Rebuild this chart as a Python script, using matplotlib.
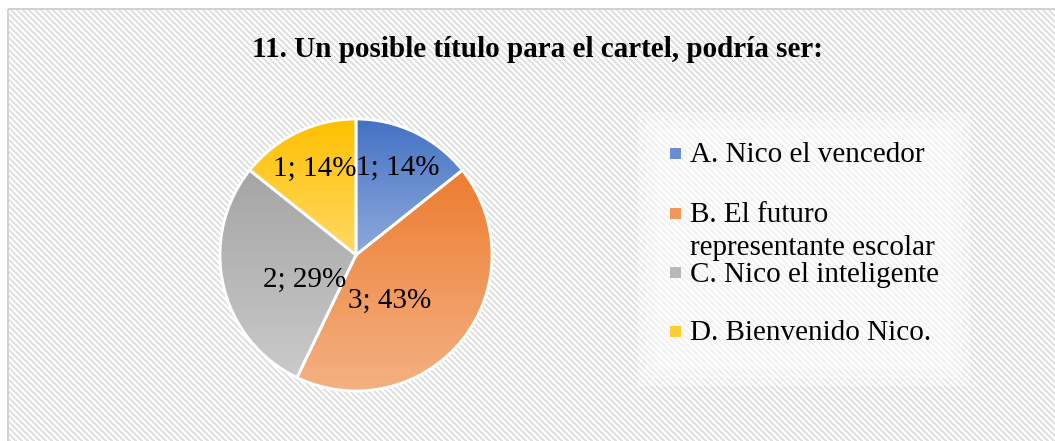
import numpy as np
import matplotlib
matplotlib.use("Agg")
import matplotlib.pyplot as plt
from matplotlib.colors import LinearSegmentedColormap, to_rgb
from matplotlib.patches import Rectangle

plt.rcParams['font.family'] = ['Liberation Serif', 'DejaVu Serif']

# data
title = "11. Un posible título para el cartel, podría ser:"
categories = ["A. Nico el vencedor",
              "B. El futuro\nrepresentante escolar",
              "C. Nico el inteligente",
              "D. Bienvenido Nico."]
counts = [1, 3, 2, 1]

# gradient colours (top -> bottom) for each slice
top_colors = ["#4472C4", "#ED7D31", "#A5A5A5", "#FFC000"]
bottom_colors = ["#8FAADC", "#F4B183", "#CACACA", "#FFD966"]

W, H = 1055, 441
fig = plt.figure(figsize=(W / 100, H / 100), dpi=100)

# striped background with a thin border
bg = fig.add_axes([0, 0, 1, 1], zorder=-10)
yy, xx = np.mgrid[0:H, 0:W]
stripes = ((xx - yy) % 6) < 3
img = np.ones((H, W, 3))
img[stripes] = np.array([226, 226, 226]) / 255
img[:, :8] = 1
img[:9, :] = 1
img[9:, 7:9] = np.array([210, 210, 210]) / 255
img[8:10, 8:] = np.array([210, 210, 210]) / 255
bg.imshow(img, extent=[0, W, H, 0], aspect='auto', interpolation='nearest')
bg.set_xlim(0, W)
bg.set_ylim(H, 0)
bg.axis('off')

# soft white panel behind the legend (a few stacked layers to fake a glow)
for pad, a in [(0, 0.25), (8, 0.25), (16, 0.25)]:
    bg.add_patch(Rectangle((638 + pad, 112 + pad), 332 - 2 * pad, 274 - 2 * pad,
                           facecolor='white', alpha=a, edgecolor='none'))

fig.text(538 / W, 1 - 57 / H, title, ha='center', va='baseline',
         fontsize=21, fontweight='bold')

# pie
cx, cy, r = 356, 255, 136
ax = fig.add_axes([(cx - r) / W, (H - cy - r) / H, 2 * r / W, 2 * r / H])
wedges, _ = ax.pie(counts, startangle=90, counterclock=False, radius=1,
                   wedgeprops=dict(edgecolor='white', linewidth=2))

grad = np.linspace(0, 1, 256).reshape(-1, 1)
for w, c0, c1 in zip(wedges, top_colors, bottom_colors):
    ext = w.get_path().get_extents()
    cmap = LinearSegmentedColormap.from_list('g', [c0, c1])
    im = ax.imshow(grad, cmap=cmap, extent=[ext.x0, ext.x1, ext.y0, ext.y1],
                   origin='upper', aspect='auto', zorder=0.5)
    im.set_clip_path(w)
    w.set_facecolor('none')
    w.set_zorder(1)

total = sum(counts)
label_r = [0.71, 0.42, 0.42, 0.70]
label_shift = [0, -15, 13, 0]
for w, n, lr, sh in zip(wedges, counts, label_r, label_shift):
    mid = np.deg2rad((w.theta1 + w.theta2) / 2 + sh)
    ax.text(lr * np.cos(mid), lr * np.sin(mid), f"{n}; {round(100 * n / total)}%",
            ha='center', va='center', fontsize=21, zorder=3)

ax.set_xlim(-1, 1)
ax.set_ylim(-1, 1)
ax.set_aspect('equal')
ax.axis('off')

# legend drawn by hand to match the original spacing
row_y = [153.5, 213, 272.5, 331.5]
line_h = 33
for lab, yc, c0, c1 in zip(categories, row_y, top_colors, bottom_colors):
    sq = 11
    mid_col = (np.array(to_rgb(c0)) + np.array(to_rgb(c1))) / 2
    bg.add_patch(Rectangle((670, yc - sq / 2), sq, sq, facecolor=mid_col,
                           edgecolor='none', zorder=2))
    for i, line in enumerate(lab.split("\n")):
        bg.text(690, yc + 9 + i * line_h, line, ha='left', va='baseline',
                fontsize=21, zorder=3)

fig.savefig("out.png", dpi=100)
